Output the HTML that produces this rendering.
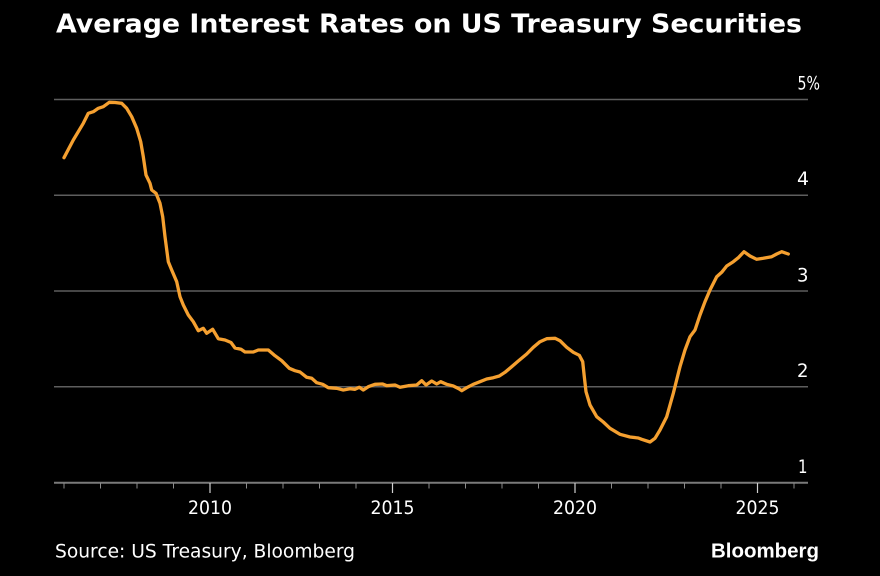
<!DOCTYPE html>
<html>
<head>
<meta charset="utf-8">
<style>
  html, body { margin: 0; padding: 0; background: #000; }
  body { width: 880px; height: 576px; overflow: hidden; }
  svg { display: block; }
</style>
</head>
<body>
<svg width="880" height="576" viewBox="0 0 880 576" xmlns="http://www.w3.org/2000/svg">
  <rect x="0" y="0" width="880" height="576" fill="#000"/>

  <!-- Title -->
  <text x="56" y="32.5" fill="#fff" font-family="'DejaVu Sans', 'Liberation Sans', sans-serif" font-weight="bold" font-size="26" textLength="746" lengthAdjust="spacingAndGlyphs">Average Interest Rates on US Treasury Securities</text>

  <!-- Gridlines -->
  <g stroke="#5e5e5e" stroke-width="1.5">
    <line x1="54" y1="99.5" x2="808" y2="99.5"/>
    <line x1="54" y1="195.3" x2="808" y2="195.3"/>
    <line x1="54" y1="291" x2="808" y2="291"/>
    <line x1="54" y1="386.8" x2="808" y2="386.8"/>
  </g>
  <!-- Axis line -->
  <line x1="54" y1="482.8" x2="808" y2="482.8" stroke="#7a7a7a" stroke-width="2"/>

  <!-- Minor ticks -->
  <g stroke="#8a8a8a" stroke-width="1">
    <line x1="64" y1="483" x2="64" y2="488.5"/>
    <line x1="100.5" y1="483" x2="100.5" y2="488.5"/>
    <line x1="137" y1="483" x2="137" y2="488.5"/>
    <line x1="173.5" y1="483" x2="173.5" y2="488.5"/>
    <line x1="246.5" y1="483" x2="246.5" y2="488.5"/>
    <line x1="283" y1="483" x2="283" y2="488.5"/>
    <line x1="319.5" y1="483" x2="319.5" y2="488.5"/>
    <line x1="356" y1="483" x2="356" y2="488.5"/>
    <line x1="429" y1="483" x2="429" y2="488.5"/>
    <line x1="465.5" y1="483" x2="465.5" y2="488.5"/>
    <line x1="502" y1="483" x2="502" y2="488.5"/>
    <line x1="538.5" y1="483" x2="538.5" y2="488.5"/>
    <line x1="611.5" y1="483" x2="611.5" y2="488.5"/>
    <line x1="648" y1="483" x2="648" y2="488.5"/>
    <line x1="684.5" y1="483" x2="684.5" y2="488.5"/>
    <line x1="721" y1="483" x2="721" y2="488.5"/>
    <line x1="794" y1="483" x2="794" y2="488.5"/>
  </g>
  <!-- Major ticks -->
  <g stroke="#d0d0d0" stroke-width="1.2">
    <line x1="210" y1="483" x2="210" y2="493"/>
    <line x1="392.5" y1="483" x2="392.5" y2="493"/>
    <line x1="575" y1="483" x2="575" y2="493"/>
    <line x1="757.5" y1="483" x2="757.5" y2="493"/>
  </g>

  <!-- X labels -->
  <g fill="#fff" font-family="'DejaVu Sans', 'Liberation Sans', sans-serif" font-size="18.5" text-anchor="middle">
    <text x="210" y="514" textLength="44" lengthAdjust="spacingAndGlyphs">2010</text>
    <text x="392.5" y="514" textLength="44" lengthAdjust="spacingAndGlyphs">2015</text>
    <text x="575" y="514" textLength="44" lengthAdjust="spacingAndGlyphs">2020</text>
    <text x="757.5" y="514" textLength="44" lengthAdjust="spacingAndGlyphs">2025</text>
  </g>

  <!-- Y labels -->
  <g fill="#fff" font-family="'DejaVu Sans', 'Liberation Sans', sans-serif" font-size="19">
    <text x="797.5" y="89.3" textLength="22.5" lengthAdjust="spacingAndGlyphs">5%</text>
    <text x="797" y="185.2" textLength="12" lengthAdjust="spacingAndGlyphs">4</text>
    <text x="797" y="281.5" textLength="11.5" lengthAdjust="spacingAndGlyphs">3</text>
    <text x="797" y="377.2" textLength="11.5" lengthAdjust="spacingAndGlyphs">2</text>
    <text x="798" y="473" textLength="9.5" lengthAdjust="spacingAndGlyphs">1</text>
  </g>

  <!-- Data line -->
  <polyline fill="none" stroke="#f5a030" stroke-width="3.3" stroke-linejoin="round" stroke-linecap="round"
    points="64,157.7 73.3,140 83.3,123.3 88.3,113.3 93.3,111.7 98.3,108.3 103.3,106.7 109.3,102.3 115,102.5 121.7,103.3 126.7,108.3 131.7,116.7 136.7,128.3 140.7,141.7 143.3,156.7 146,175 150,183.3 151.7,190 156,193.3 160,203.3 162.7,216.7 165,236.7 168.3,261.7 171.7,270 176.7,281.7 180,296.7 183.3,305 188.3,315 193.3,321.7 198.3,330.7 203.3,328.3 206.7,333.3 212.7,329.3 218.3,338.7 225,340 231,342.5 235,348 241,349.3 245,352 253.3,352 258.3,350 268.3,350 275,355.7 281.7,360.7 289.3,368.3 295,370.7 300,372 306.7,377.3 311.7,378.3 316.7,382.7 322.7,384.3 328.3,387.7 336.7,388.3 343.3,390 350,388.7 355,389.3 359.3,387.3 363.3,390 368.3,386.7 375,384.3 382.7,384 386.7,385.7 395,385 400,387.3 408.3,385.7 416.7,385 421.7,380.7 426,385 431.7,381 436.7,384 440.7,381.7 446.7,384.3 453.3,386 459.3,389 461.7,390.7 466.7,387.7 473.3,384.3 480,381.7 486.7,379 493.3,377.7 499.3,376 505,372.3 511.7,366.7 518.3,361 526.7,354 533.3,347.3 540,341.7 546.7,338.7 555,338.3 560,340.7 566.7,347.3 573.3,352.3 579.3,355.3 582.7,361.7 584.3,376.7 586,391.7 590,405 596.7,416.7 603.3,422 610,428.3 620,434.3 630,437 638.3,438 641.7,439.3 650,442 655,438.3 660,430 666.7,416.7 673.3,393.3 680,366.7 685,350 690,336.7 695,330 700,315 705,301.7 710,290 716.7,276.7 721.7,272.3 726.7,266 733.3,261.7 738.3,257.7 744,251.7 750,256 756.7,259.3 763.3,258.3 771.7,256.7 776.7,254 781.7,251.7 788.3,254"/>

  <!-- Footer -->
  <text x="55" y="557.3" fill="#fff" font-family="'DejaVu Sans', 'Liberation Sans', sans-serif" font-size="19" textLength="300" lengthAdjust="spacingAndGlyphs">Source: US Treasury, Bloomberg</text>
  <text x="711" y="557.3" fill="#fff" font-family="'Liberation Sans', Arial, sans-serif" font-weight="bold" font-size="20" textLength="108" lengthAdjust="spacingAndGlyphs">Bloomberg</text>
</svg>
</body>
</html>
